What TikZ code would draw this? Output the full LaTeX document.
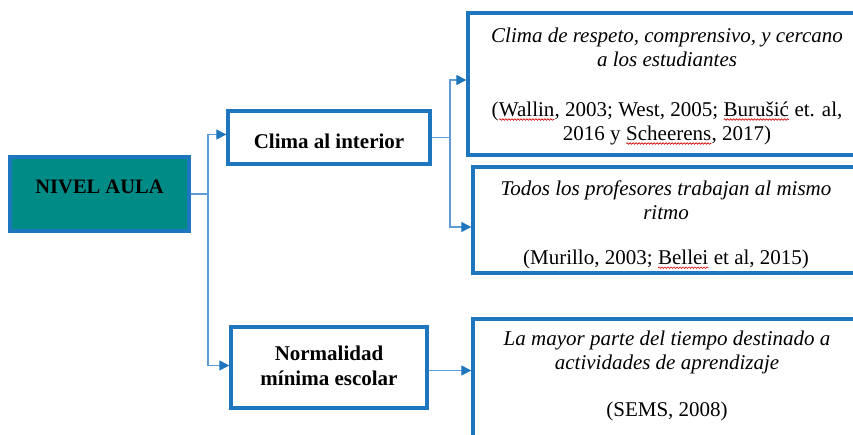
\documentclass[tikz,border=0pt]{standalone}
\usepackage{fontspec}
\setmainfont{Liberation Serif}
\usetikzlibrary{arrows.meta,decorations.pathmorphing}
\definecolor{tealfill}{RGB}{0,139,135}
\definecolor{bord}{RGB}{30,118,190}
\definecolor{conncol}{RGB}{95,155,212}
\newcommand\rw[1]{\tikz[baseline=(rwnode.base)]{\node[inner sep=0pt,outer sep=0pt] (rwnode) {#1};
  \draw[red!85!black, line width=0.6pt, decorate, decoration={snake,amplitude=0.8pt,segment length=3pt}]
  ([yshift=-3pt]rwnode.base west) -- ([yshift=-3pt]rwnode.base east);}}
\begin{document}
\begin{tikzpicture}[x=1pt,y=-1pt,
  boxx/.style={draw=bord, line width=3.4pt, inner sep=0pt},
  lbl/.style={align=center, inner sep=0pt, font=\fontsize{21}{24}\selectfont},
  blbl/.style={align=center, inner sep=0pt, font=\fontsize{21}{25}\selectfont\bfseries},
  conn/.style={draw=conncol, line width=1.3pt},
  arr/.style={conn, -{Triangle[length=10pt,width=10pt,color=bord]}}]
\useasboundingbox (0,0) rectangle (853,435);
\clip (0,0) rectangle (853,435);
% boxes
\node[boxx, fill=tealfill, minimum width=179pt, minimum height=74pt] (nivel) at (99.5,194) {};
\node[boxx, minimum width=202pt, minimum height=53pt] (clima) at (329,137.5) {};
\node[boxx, minimum width=196pt, minimum height=81pt] (norm) at (329,367.5) {};
\node[boxx, minimum width=398pt, minimum height=142pt] (box1) at (667,84) {};
\node[boxx, minimum width=386pt, minimum height=106pt] (box2) at (666,220) {};
\node[boxx, minimum width=388pt, minimum height=161pt] (box3) at (667,399.5) {};
% texts
\node[blbl, font=\fontsize{20.5}{24}\selectfont\bfseries] (niveltxt) at (99.5,187) {NIVEL AULA};
\node[blbl] (climatxt) at (329,141) {Clima al interior};
\node[blbl] (normtxt) at (329,366) {Normalidad\\mínima escolar};
\node[lbl] (box1txt) at (667,86.5) {\textit{Clima de respeto, comprensivo, y cercano}\\
  \textit{a los estudiantes}\\[26pt]
  (\rw{Wallin}, 2003; West, 2005; \rw{Burušić} et. al,\\
  2016 y \rw{Scheerens}, 2017)};
\node[lbl] (box2txt) at (666,225) {\textit{Todos los profesores trabajan al mismo}\\
  \textit{ritmo}\\[21pt]
  (Murillo, 2003; \rw{Bellei} et al, 2015)};
\node[lbl] (box3txt) at (667,376) {\textit{La mayor parte del tiempo destinado a}\\
  \textit{actividades de aprendizaje}\\[23pt]
  (SEMS, 2008)};
% connectors
\coordinate (j1) at (208,194);
\draw[conn] (nivel.east) -- (j1);
\draw[arr] (j1) |- ([yshift=3pt]clima.west);
\draw[arr] (j1) |- ([yshift=2pt]norm.west);
\coordinate (j2) at (450,137.5);
\draw[conn] (clima.east) -- (j2);
\draw[arr] (j2) |- ([yshift=4pt]box1.west);
\draw[arr] (j2) |- ([yshift=-7pt]box2.west);
\draw[arr] ([yshift=-3pt]norm.east) -- ([yshift=-3pt]norm.east -| box3.west);
\end{tikzpicture}
\end{document}
